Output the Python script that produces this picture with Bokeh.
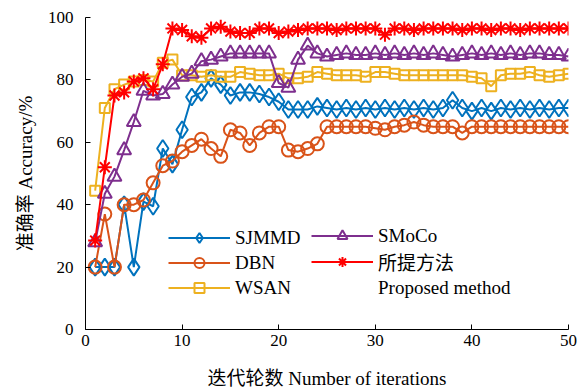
from bokeh.plotting import figure
from bokeh.models import Legend, LegendItem, FixedTicker, Range1d
from bokeh.embed import file_html
from bokeh.resources import INLINE

iterations = list(range(1, 51))

sjmmd = [20, 20, 20, 40, 20, 41, 39.5, 58, 53, 64,
         74.5, 76, 80.5, 78.5, 75, 76, 76, 75.5, 74.5, 73,
         70.5, 70.5, 70.5, 71.5, 71, 70.5, 71, 70.5, 71, 70.5,
         71, 70.5, 71, 70.5, 71, 70.5, 71, 73.5, 71, 70,
         71, 70, 71, 70.5, 71, 70.5, 71, 70.5, 71, 71]

dbn = [20, 37, 20, 40, 40, 41.5, 47, 52.5, 54, 57,
       59, 61, 58, 55.5, 64, 63, 59, 63, 65, 65,
       57.5, 57, 58, 59.5, 65, 65, 65, 65, 65, 64.5,
       64, 65, 65.5, 66.5, 65.5, 65, 65, 65, 63, 65,
       65, 65, 65, 65, 65, 65, 65, 65, 65, 65]

wsan = [44.5, 71, 77, 78.5, 79.5, 80, 79.5, 85.5, 86.5, 81.5,
        81.5, 81, 81.5, 81, 81, 82.5, 82, 81.5, 81.5, 82,
        80.5, 80.5, 81, 82.5, 82, 81.5, 81.5, 81.5, 81, 82.5,
        82.5, 82, 81.5, 81.5, 81.5, 81.5, 81.5, 81.5, 81.5, 81,
        80.5, 78, 81.5, 82, 82, 82.5, 81.5, 81, 81.5, 82]

smoco = [28, 43.5, 49, 57.5, 66.5, 76.5, 75, 75.5, 78.5, 81,
         82, 86, 86.5, 87.5, 88.5, 88.5, 88.5, 88.5, 88.5, 79,
         77.5, 86.5, 91, 88.5, 87.5, 88, 88.5, 88, 88, 88.5,
         88, 88.5, 88, 88.5, 88, 88.5, 88, 87.5, 88, 88.5,
         88, 88.5, 88, 88.5, 88, 88.5, 88.5, 88, 88, 87.5]

proposed = [28.5, 52, 75, 76, 79.5, 80.5, 77, 85, 96.5, 96,
            94, 93.5, 96.5, 97, 95.5, 95, 95, 96.5, 96.5, 95,
            95.5, 96, 96.5, 96.5, 96.5, 96, 96.5, 96.5, 96.5, 96.5,
            94.5, 96.5, 96.5, 96, 96.5, 96.5, 96.5, 96.5, 96, 96.5,
            96.5, 96, 96.5, 96.5, 96, 96.5, 96.5, 96.5, 96.5, 96.5]

series_names = ["SJMMD", "DBN", "WSAN", "SMoCo", "所提方法"]
series_values = [sjmmd, dbn, wsan, smoco, proposed]
series_colors = ["#0072BD", "#D95319", "#EDB120", "#7E2F8E", "#FF0000"]
series_markers = ["diamond", "circle", "square", "triangle", "asterisk"]
marker_sizes = [17, 13, 10, 14, 14]

x_ticks = [0, 10, 20, 30, 40, 50]
y_ticks = [0, 20, 40, 60, 80, 100]

FONT = "'Liberation Serif', 'Times New Roman', 'Noto Sans CJK SC', serif"

p = figure(width=582, height=391, output_backend="svg", toolbar_location=None,
           x_range=Range1d(0, 50), y_range=Range1d(0, 100),
           min_border_left=85, min_border_right=14, min_border_top=17,
           min_border_bottom=58)

p.xgrid.visible = False
p.ygrid.visible = False
p.outline_line_color = None
p.background_fill_color = "white"

items = []
for name, vals, col, mk, sz in zip(series_names, series_values, series_colors,
                                   series_markers, marker_sizes):
    r1 = p.line(iterations, vals, line_color=col, line_width=2)
    r2 = p.scatter(iterations, vals, marker=mk, size=sz, line_color=col,
                   line_width=2, fill_alpha=0)
    items.append(LegendItem(label=name, renderers=[r1, r2]))

dummy = p.line([], [], line_alpha=0)
items.append(LegendItem(label="Proposed method", renderers=[dummy]))

legend_style = dict(border_line_color=None, background_fill_alpha=0,
                    padding=0, margin=0, glyph_width=62, glyph_height=25,
                    label_height=25, label_standoff=5, spacing=0,
                    label_text_font=FONT, label_text_font_size="19px",
                    label_text_color="black")
legend1 = Legend(items=items[:3], location=(83, 29), **legend_style)
legend2 = Legend(items=items[3:], location=(226, 29), **legend_style)
p.add_layout(legend1, "center")
p.add_layout(legend2, "center")

for ax in (p.xaxis[0], p.yaxis[0]):
    ax.axis_line_color = "black"
    ax.axis_line_width = 1
    ax.major_tick_in = 5
    ax.major_tick_out = 0
    ax.minor_tick_line_color = None
    ax.major_tick_line_color = "black"
    ax.major_label_text_font = FONT
    ax.major_label_text_font_size = "17px"
    ax.major_label_text_color = "black"
    ax.axis_label_text_font = FONT
    ax.axis_label_text_font_size = "19px"
    ax.axis_label_text_font_style = "normal"
    ax.axis_label_text_color = "black"

p.xaxis.ticker = FixedTicker(ticks=x_ticks)
p.yaxis.ticker = FixedTicker(ticks=y_ticks)
p.xaxis.axis_label = "迭代轮数 Number of iterations"
p.yaxis.axis_label = "准确率 Accuracy/%"
p.xaxis.major_label_standoff = 5
p.yaxis.major_label_standoff = 12
p.xaxis.axis_label_standoff = 19
p.yaxis.axis_label_standoff = 9

open("out.html", "w").write(file_html(p, INLINE))
